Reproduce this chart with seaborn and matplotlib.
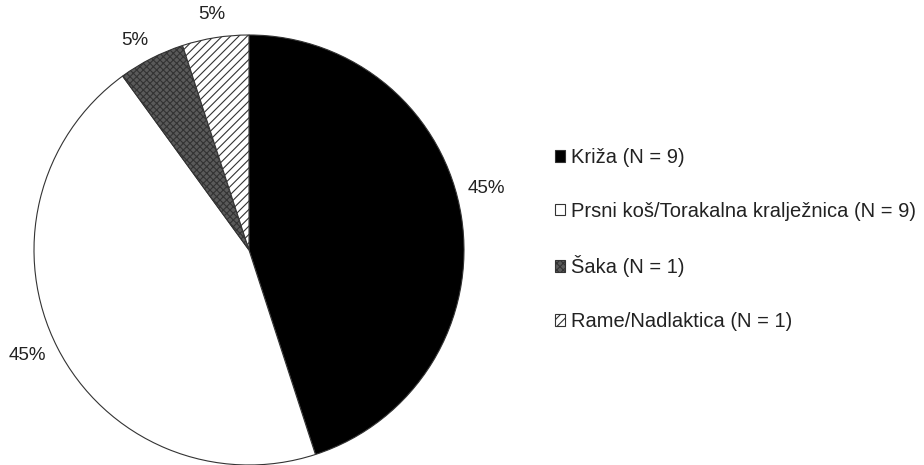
import matplotlib
matplotlib.use("Agg")
import numpy as np
import matplotlib.pyplot as plt
from matplotlib.patches import Patch
import seaborn as sns

# --- Data ---
categories = ["Križa", "Prsni koš/Torakalna kralježnica", "Šaka", "Rame/Nadlaktica"]
counts = [9, 9, 1, 1]

# --- Styles ---
face_colors = ["black", "white", "#5a5a5a", "white"]
hatches = [None, None, "xxxxx", "////"]
# label placement tweaks (angle shift in degrees, radius)
label_shift = [5.5, -1.5, 1.5, 0.0]
label_radius = [1.14, 1.14, 1.11, 1.11]

sns.set_theme(style="white")
plt.rcParams["font.family"] = ["Liberation Sans", "DejaVu Sans"]
plt.rcParams["hatch.linewidth"] = 0.8
plt.rcParams["hatch.color"] = "black"

fig = plt.figure(figsize=(9.24, 4.65), dpi=100)
W, H = 924, 465
ax = fig.add_axes([34 / W, 0, 430 / W, 430 / H])

wedges, texts, autotexts = ax.pie(
    counts, startangle=90, counterclock=False,
    colors=face_colors, autopct="%.0f%%", pctdistance=1.13,
    wedgeprops=dict(edgecolor="#333333", linewidth=0.8),
    textprops=dict(fontsize=13.5, color="#222222"))
for w, h, t, da, r in zip(wedges, hatches, autotexts, label_shift, label_radius):
    if h:
        w.set_hatch(h)
    ang = np.deg2rad((w.theta1 + w.theta2) / 2 + da)
    t.set_position((r * np.cos(ang), r * np.sin(ang)))
    t.set_ha("center")
    t.set_va("center")
ax.set_xlim(-1, 1)
ax.set_ylim(-1, 1)
ax.set_aspect("equal")
ax.axis("off")

labels = [f"{c} (N = {n})" for c, n in zip(categories, counts)]
handles = [Patch(facecolor=fc, edgecolor="#333333", hatch=h, linewidth=0.8)
           for fc, h in zip(face_colors, hatches)]
fig.legend(handles, labels, loc="center left",
           bbox_to_anchor=(555 / W, 1 - 239.5 / H),
           frameon=False, fontsize=14.5, labelspacing=1.72,
           handlelength=0.5, handleheight=0.5, handletextpad=0.3,
           borderpad=0, borderaxespad=0, labelcolor="#222222")

fig.savefig("out.png", dpi=100, facecolor="white")
